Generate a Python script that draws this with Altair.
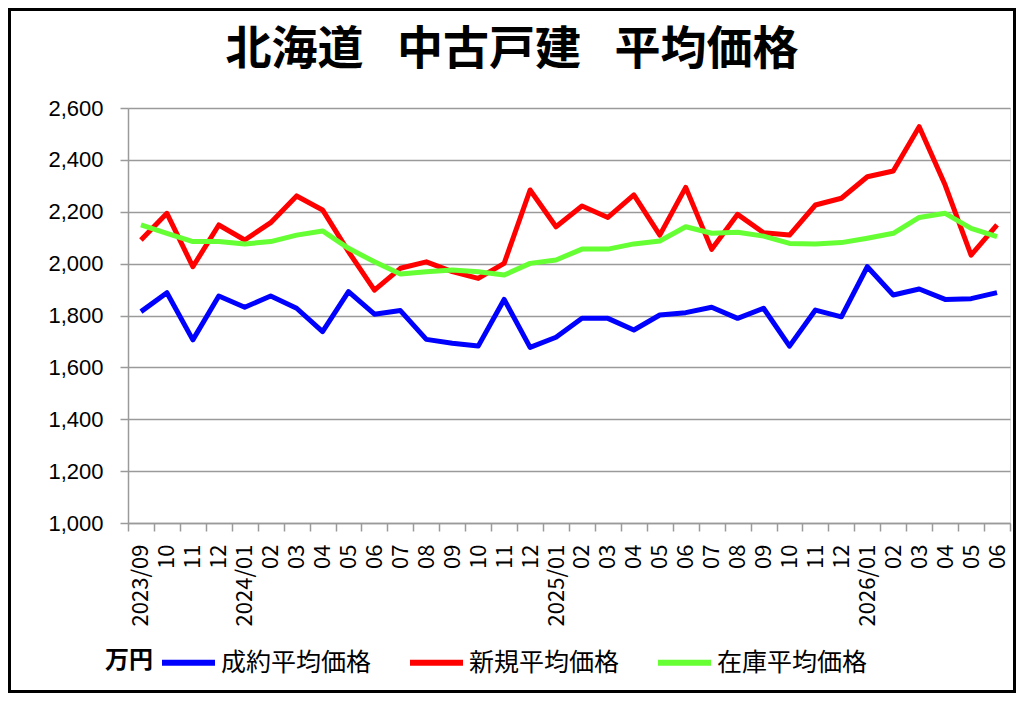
import altair as alt
import pandas as pd

months = [
    "2023/09", "2023/10", "2023/11", "2023/12",
    "2024/01", "2024/02", "2024/03", "2024/04", "2024/05", "2024/06",
    "2024/07", "2024/08", "2024/09", "2024/10", "2024/11", "2024/12",
    "2025/01", "2025/02", "2025/03", "2025/04", "2025/05", "2025/06",
    "2025/07", "2025/08", "2025/09", "2025/10", "2025/11", "2025/12",
    "2026/01", "2026/02", "2026/03", "2026/04", "2026/05", "2026/06",
]
tick_labels = [
    "2023/09", "10", "11", "12",
    "2024/01", "02", "03", "04", "05", "06", "07", "08", "09", "10", "11", "12",
    "2025/01", "02", "03", "04", "05", "06", "07", "08", "09", "10", "11", "12",
    "2026/01", "02", "03", "04", "05", "06",
]

series_names = ["成約平均価格", "新規平均価格", "在庫平均価格"]
series_colors = ["#0000FF", "#FF0000", "#66FF33"]

seiyaku = [1815, 1888, 1706, 1875, 1832, 1875, 1828, 1738, 1892, 1805,
           1819, 1708, 1693, 1682, 1862, 1677, 1716, 1789, 1789, 1744,
           1802, 1811, 1832, 1789, 1828, 1682, 1821, 1795, 1988, 1879,
           1902, 1862, 1865, 1888]
shinki = [2091, 2194, 1988, 2149, 2091, 2158, 2261, 2207, 2046, 1898,
          1982, 2007, 1969, 1943, 2001, 2284, 2142, 2222, 2178, 2265,
          2110, 2294, 2055, 2190, 2119, 2110, 2226, 2252, 2335, 2357,
          2528, 2303, 2033, 2149]
zaiko = [2149, 2117, 2085, 2085, 2076, 2085, 2110, 2126, 2059, 2007,
         1960, 1969, 1975, 1969, 1956, 2001, 2014, 2056, 2056, 2076,
         2087, 2142, 2117, 2121, 2106, 2078, 2076, 2081, 2098, 2117,
         2178, 2194, 2136, 2104]

rows = []
for name, vals in zip(series_names, [seiyaku, shinki, zaiko]):
    for m, v in zip(months, vals):
        rows.append({"month": m, "series": name, "value": v})
df = pd.DataFrame(rows)

FONT = "Noto Sans CJK JP"
GRID = "#9a9a9a"

keys_js = "[" + ",".join("'%s'" % m for m in months) + "]"
labs_js = "[" + ",".join("'%s'" % t for t in tick_labels) + "]"
label_expr = "%s[indexof(%s, datum.value)]" % (labs_js, keys_js)

lines = alt.Chart(df).mark_line(strokeWidth=5, strokeJoin="round").encode(
    x=alt.X(
        "month:N",
        sort=months,
        bandPosition=0.5,
        scale=alt.Scale(type="band", paddingInner=0, paddingOuter=0),
        axis=alt.Axis(
            title=None,
            labelAngle=-90,
            labelExpr=label_expr,
            labelFont=FONT,
            labelFontSize=22,
            labelColor="#000000",
            labelPadding=13,
            tickBand="extent",
            tickSize=8,
            tickColor=GRID,
            tickWidth=1.5,
            domainColor=GRID,
            domainWidth=1.5,
            grid=False,
        ),
    ),
    y=alt.Y(
        "value:Q",
        scale=alt.Scale(domain=[1000, 2600], nice=False, zero=False),
        axis=alt.Axis(
            title=None,
            values=list(range(1000, 2601, 200)),
            format=",.0f",
            labelFont="Liberation Sans",
            labelFontSize=22,
            labelColor="#000000",
            labelPadding=17,
            tickSize=8,
            tickColor=GRID,
            tickWidth=1.5,
            domainColor=GRID,
            domainWidth=1.5,
            gridColor=GRID,
            gridWidth=1.5,
        ),
    ),
    color=alt.Color(
        "series:N",
        sort=series_names,
        scale=alt.Scale(domain=series_names, range=series_colors),
        legend=alt.Legend(
            title="万円",
            titleOrient="left",
            titleAnchor="middle",
            titleFont=FONT,
            titleFontSize=24,
            titleFontWeight="bold",
            titleColor="#000000",
            titlePadding=6,
            titleBaseline="line-top",
            titleLineHeight=14.5,
            orient="none",
            legendX=-23,
            legendY=525,
            direction="horizontal",
            columns=3,
            columnPadding=26,
            symbolType="stroke",
            symbolSize=2809,
            symbolStrokeWidth=6,
            labelFont=FONT,
            labelFontSize=25,
            labelColor="#000000",
            labelOffset=3,
        ),
    ),
)

frame = alt.Chart(alt.Data(values=[{}])).mark_rect(
    filled=False, stroke="#000000", strokeWidth=3
).encode(
    x=alt.value(-118.5),
    x2=alt.value(886.5),
    y=alt.value(-98.5),
    y2=alt.value(583.5),
)

chart = alt.layer(lines, frame).properties(
    width=882,
    height=415,
    autosize=alt.AutoSizeParams(type="none"),
    padding={"left": 120, "top": 100, "right": 6, "bottom": 170},
    background="#ffffff",
    title=alt.TitleParams(
        text="北海道\u2002 中古戸建\u2002 平均価格",
        font=FONT,
        fontSize=46,
        fontWeight="bold",
        color="#000000",
        anchor="middle",
        frame="group",
        dx=-57,
        dy=98,
        offset=32,
    ),
).configure_view(strokeOpacity=0).configure(font=FONT)

chart.save("out.html", embed_options={"renderer": "svg", "actions": False})
